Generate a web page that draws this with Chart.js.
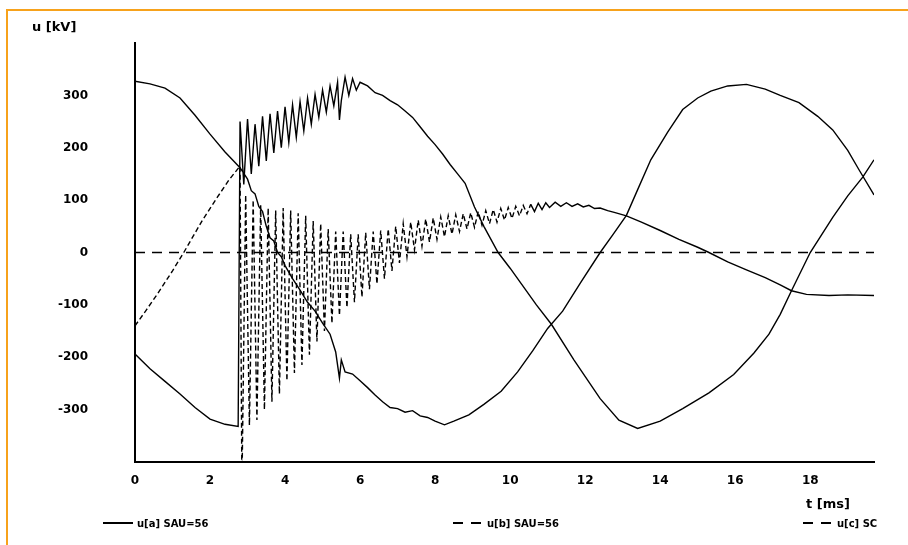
<!DOCTYPE html>
<html>
<head>
<meta charset="utf-8">
<script src="https://cdn.jsdelivr.net/npm/chart.js@4.4.1/dist/chart.umd.min.js"></script>
<style>
  body { margin: 0; background: #fff; }
  #wrap { position: relative; width: 908px; height: 545px; overflow: hidden; }
  #frame { position: absolute; left: 6px; top: 9px; right: -4px; bottom: -4px;
           border-top: 2px solid #f7a21b; border-left: 2px solid #f7a21b; }
  canvas { position: absolute; left: 0; top: 0; }
  .lbl { position: absolute; font: bold 13px "DejaVu Sans", sans-serif; color: #000; white-space: nowrap; }
  .item { position: absolute; font: bold 10px "DejaVu Sans", sans-serif; color: #000; white-space: nowrap;
          display: flex; align-items: center; height: 12px; }
  .mark { width: 30px; height: 2px; margin-right: 4px; }
</style>
</head>
<body>
<div id="wrap">
  <div id="frame"></div>
  <canvas id="chart" width="908" height="545"></canvas>
  <div class="lbl" style="left:32px;top:19px">u [kV]</div>
  <div class="lbl" style="left:806px;top:496px">t [ms]</div>
  <div id="legend"></div>
</div>
<script>
"use strict";

// legend labels and tick settings
const seriesLabels = ['u[a] SAU=56', 'u[b] SAU=56', 'u[c] SC'];
const xTicks = [0, 2, 4, 6, 8, 10, 12, 14, 16, 18];
const yTicks = [-300, -200, -100, 0, 100, 200, 300];

// [t ms, u kV]
const curveA = [
    [0, 327], [0.4, 322], [0.8, 314], [1.2, 295], [1.6, 262], [2.0, 226], [2.4, 192], [2.8, 162],
    [3.0, 140], [3.1, 118], [3.2, 112], [3.3, 88], [3.4, 78], [3.5, 50], [3.6, 28], [3.7, 22],
    [3.8, 0], [3.9, -8], [4.0, -25], [4.2, -50], [4.4, -72], [4.6, -95], [4.8, -112], [5.0, -135],
    [5.2, -156], [5.35, -190], [5.45, -240], [5.5, -205], [5.6, -228], [5.8, -232], [6.0, -245],
    [6.2, -258], [6.4, -272], [6.6, -285], [6.8, -296], [7.0, -298], [7.2, -305], [7.4, -302],
    [7.6, -312], [7.8, -315], [8.0, -322], [8.25, -329], [8.5, -322], [8.9, -310], [9.3, -290],
    [9.76, -265], [10.2, -228], [10.6, -188], [11.0, -145], [11.4, -112], [11.9, -55], [12.4, 0],
    [12.75, 35], [13.1, 71], [13.4, 120], [13.75, 177], [14.2, 230], [14.6, 273], [15.0, 295],
    [15.35, 308], [15.8, 318], [16.3, 321], [16.8, 312], [17.2, 300], [17.7, 286], [18.2, 260],
    [18.6, 234], [19.0, 195], [19.3, 158], [19.7, 110]
];

const curveC = [
    [0, -194], [0.4, -222], [0.8, -246], [1.2, -270], [1.6, -296], [2.0, -318], [2.4, -328], [2.75, -332],
    [2.8, 250], [2.9, 130], [3.0, 255], [3.1, 150], [3.2, 245], [3.3, 165], [3.4, 260], [3.5, 175],
    [3.6, 265], [3.7, 190], [3.8, 270], [3.9, 200], [4.0, 278], [4.1, 210], [4.2, 282], [4.3, 220],
    [4.4, 288], [4.5, 232], [4.6, 295], [4.7, 245], [4.8, 302], [4.9, 258], [5.0, 310], [5.1, 268],
    [5.2, 318], [5.3, 280], [5.4, 325], [5.45, 253], [5.5, 290], [5.6, 335], [5.7, 300], [5.8, 332],
    [5.9, 310], [6.0, 325], [6.2, 318], [6.4, 305], [6.6, 300], [6.8, 290], [7.0, 282], [7.2, 270],
    [7.4, 258], [7.6, 240], [7.8, 222], [8.0, 206], [8.2, 188], [8.4, 168], [8.6, 150], [8.8, 132],
    [9.05, 87], [9.3, 50], [9.68, 0], [10.0, -30], [10.3, -60], [10.7, -100], [11.1, -137],
    [11.7, -205], [12.4, -279], [12.9, -320], [13.4, -336], [14.0, -322], [14.6, -298], [15.3, -268],
    [15.96, -233], [16.5, -192], [16.9, -156], [17.2, -118], [17.5, -73], [18.0, 0], [18.6, 67],
    [19.0, 108], [19.4, 144], [19.7, 177]
];

const curveB = [
    [0, -140], [0.3, -110], [0.6, -79], [1.0, -35], [1.3, 0], [1.8, 62], [2.2, 106], [2.5, 138], [2.8, 165],
    [2.85, -450], [2.95, 110], [3.05, -330], [3.15, 100], [3.25, -320], [3.35, 90], [3.45, -300],
    [3.55, 85], [3.65, -285], [3.75, 80], [3.85, -270], [3.95, 85], [4.05, -245], [4.15, 80],
    [4.25, -230], [4.35, 75], [4.45, -215], [4.55, 70], [4.65, -195], [4.75, 60], [4.85, -170],
    [4.95, 55], [5.05, -150], [5.15, 45], [5.25, -135], [5.35, 40], [5.45, -120], [5.55, 40],
    [5.65, -105], [5.75, 35], [5.85, -95], [5.95, 35], [6.05, -85], [6.15, 38], [6.25, -70],
    [6.35, 40], [6.45, -60], [6.55, 42], [6.65, -50], [6.75, 45], [6.85, -35], [6.95, 50],
    [7.05, -20], [7.15, 55], [7.25, -8], [7.35, 58], [7.45, 5], [7.55, 62], [7.65, 12], [7.75, 64],
    [7.85, 20], [7.95, 66], [8.05, 25], [8.15, 68], [8.25, 30], [8.35, 70], [8.45, 35], [8.55, 72],
    [8.65, 40], [8.75, 74], [8.85, 45], [8.95, 76], [9.05, 48], [9.15, 78], [9.25, 52], [9.35, 80],
    [9.45, 55], [9.55, 82], [9.65, 58], [9.75, 84], [9.85, 62], [9.95, 86], [10.05, 65], [10.15, 88],
    [10.25, 70], [10.35, 90], [10.45, 74], [10.55, 92], [10.65, 78], [10.75, 94], [10.85, 82],
    [10.95, 95], [11.05, 86], [11.2, 96], [11.35, 88], [11.5, 95], [11.65, 88], [11.8, 93],
    [11.95, 87], [12.1, 90], [12.25, 84], [12.4, 85], [12.6, 80], [12.8, 76], [13.1, 70], [13.5, 58],
    [14.0, 42], [14.5, 25], [15.0, 10], [15.3, 0], [15.8, -18], [16.3, -33], [16.8, -48],
    [17.2, -62], [17.5, -73], [17.9, -80], [18.5, -82], [19.0, -81], [19.7, -82]
];

const zeroLine = [[0, 0], [19.7, 0]];

function toPoints(arr) {
    return arr.map(p => ({ x: p[0], y: p[1] }));
}

// phase A and phase C share the solid style, split by a gap
const solidData = toPoints(curveA).concat([{ x: 19.7, y: null }], toPoints(curveC));

const ctx = document.getElementById('chart').getContext('2d');

new Chart(ctx, {
    type: 'line',
    data: {
        datasets: [{
            label: seriesLabels[0],
            data: solidData,
            borderColor: '#000',
            borderWidth: 1.4,
            pointRadius: 0,
            spanGaps: false,
            tension: 0
        }, {
            label: seriesLabels[1],
            data: toPoints(curveB),
            borderColor: '#000',
            borderWidth: 1.4,
            pointRadius: 0,
            tension: 0,
            borderDash: [],
            segment: {
                borderDash: c => c.p0.parsed.x < 10.5 ? [5, 3] : undefined
            }
        }, {
            label: seriesLabels[2],
            data: toPoints(zeroLine),
            borderColor: '#000',
            borderWidth: 1.4,
            pointRadius: 0,
            borderDash: [10, 7]
        }]
    },
    options: {
        responsive: false,
        animation: false,
        devicePixelRatio: 1,
        layout: { padding: { top: 43, right: 34, bottom: 0, left: 0 } },
        plugins: { legend: { display: false }, tooltip: { enabled: false } },
        scales: {
            x: {
                type: 'linear',
                min: 0,
                max: 19.7,
                grid: { display: false, drawTicks: false },
                border: { display: true, color: '#000', width: 2 },
                ticks: {
                    stepSize: 2,
                    padding: 12,
                    color: '#000',
                    maxRotation: 0,
                    font: { family: 'DejaVu Sans', size: 12, weight: 'bold' }
                },
                afterBuildTicks: s => { s.ticks = xTicks.map(v => ({ value: v })); },
                afterFit: s => { s.height = 83; s.paddingLeft = 0; s.paddingRight = 0; }
            },
            y: {
                type: 'linear',
                min: -400,
                max: 400,
                grid: { display: false, drawTicks: false },
                border: { display: true, color: '#000', width: 2 },
                ticks: {
                    stepSize: 100,
                    padding: 47,
                    color: '#000',
                    font: { family: 'DejaVu Sans', size: 12, weight: 'bold' }
                },
                afterBuildTicks: s => { s.ticks = yTicks.map(v => ({ value: v })); },
                afterFit: s => { s.width = 135; s.paddingTop = 0; s.paddingBottom = 0; }
            }
        }
    }
});

// legend along the bottom
const legendPos = [103, 453, 803];
const markStyles = [
    'background:#000',
    'background:linear-gradient(to right,#000 0 10px,transparent 10px 18px,#000 18px 28px,transparent 28px)',
    'background:linear-gradient(to right,#000 0 10px,transparent 10px 18px,#000 18px 28px,transparent 28px)'
];
const legend = document.getElementById('legend');
for (let i = 0; i < seriesLabels.length; i++) {
    const item = document.createElement('div');
    item.className = 'item';
    item.style.left = legendPos[i] + 'px';
    item.style.top = '517px';
    item.innerHTML = '<span class="mark" style="' + markStyles[i] + '"></span>' + seriesLabels[i];
    legend.appendChild(item);
}
</script>
</body>
</html>
